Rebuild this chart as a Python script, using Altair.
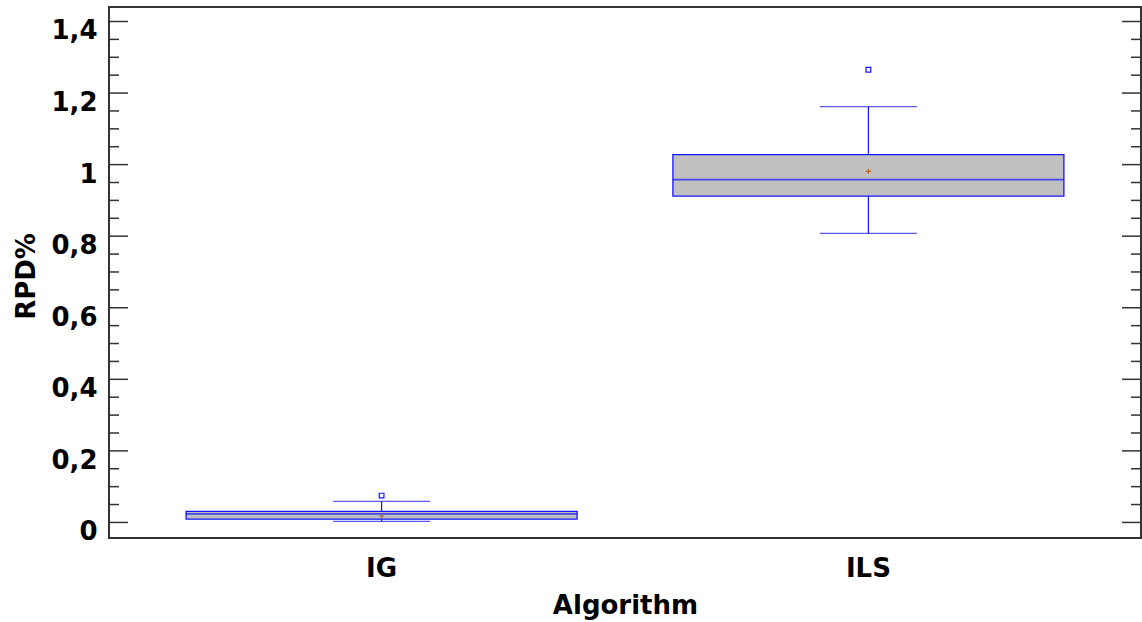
import altair as alt
import pandas as pd

# ---- data ----
algorithms = ["IG", "ILS"]
whisker_low = [0.003, 0.808]
q1 = [0.009, 0.912]
median = [0.024, 0.958]
q3 = [0.031, 1.028]
whisker_high = [0.059, 1.162]
means = [0.018, 0.981]
outlier_alg = ["IG", "ILS"]
outlier_val = [0.075, 1.265]

major_ticks = [0, 0.2, 0.4, 0.6, 0.8, 1.0, 1.2, 1.4]
minor_ticks = [0.05, 0.1, 0.15, 0.25, 0.3, 0.35, 0.45, 0.5, 0.55, 0.65, 0.7, 0.75,
               0.85, 0.9, 0.95, 1.05, 1.1, 1.15, 1.25, 1.3, 1.35]

stats = pd.DataFrame({
    "Algorithm": algorithms, "lo": whisker_low, "q1": q1, "med": median,
    "q3": q3, "hi": whisker_high, "mean": means,
})
outliers = pd.DataFrame({"Algorithm": outlier_alg, "v": outlier_val})
majors = pd.DataFrame({"t": major_ticks})
minors = pd.DataFrame({"t": minor_ticks})

FONT = "DejaVu Sans"
BLUE = "#1414ff"
W, H = 1032, 531

xscale = alt.Scale(domain=algorithms, paddingInner=0, paddingOuter=0.06)
yscale = alt.Scale(domain=[-0.0435, 1.4405], nice=False, zero=False)

xaxis = alt.Axis(
    title="Algorithm", labelAngle=0, ticks=False, tickSize=0, domain=False, grid=False,
    labelFont=FONT, labelFontSize=26, labelFontWeight="bold", labelColor="black",
    labelBaseline="alphabetic", labelPadding=38,
    titleFont=FONT, titleFontSize=26, titleFontWeight="bold", titleColor="black",
    titleBaseline="alphabetic", titleY=75,
)
yaxis = alt.Axis(
    title="RPD%", values=major_ticks, ticks=False, tickSize=0, domain=False, grid=False,
    labelExpr="replace(format(datum.value, '.1~f'), '.', ',')",
    labelFont=FONT, labelFontSize=26, labelFontWeight="bold", labelColor="black",
    labelPadding=12, labelOffset=9.5,
    titleFont=FONT, titleFontSize=26, titleFontWeight="bold", titleColor="black",
    titleBaseline="alphabetic", titleAngle=270, titleX=-75, titleY=269,
)

base = alt.Chart(stats)

box = base.mark_bar(size=391, fill="#c0c0c0", stroke=BLUE, strokeWidth=1.3).encode(
    x=alt.X("Algorithm:N", scale=xscale, axis=xaxis, sort=algorithms),
    y=alt.Y("q1:Q", scale=yscale, axis=yaxis),
    y2="q3:Q",
)
whisk_lo = base.mark_rule(color=BLUE, strokeWidth=1.2).encode(
    x=alt.X("Algorithm:N", scale=xscale, sort=algorithms), y="lo:Q", y2="q1:Q")
whisk_hi = base.mark_rule(color=BLUE, strokeWidth=1.2).encode(
    x=alt.X("Algorithm:N", scale=xscale, sort=algorithms), y="q3:Q", y2="hi:Q")
cap_lo = base.mark_tick(size=97, thickness=1.2, color=BLUE, orient="horizontal").encode(
    x=alt.X("Algorithm:N", scale=xscale, sort=algorithms), y="lo:Q")
cap_hi = base.mark_tick(size=97, thickness=1.2, color=BLUE, orient="horizontal").encode(
    x=alt.X("Algorithm:N", scale=xscale, sort=algorithms), y="hi:Q")
med = base.mark_tick(size=391, thickness=1.6, color=BLUE, orient="horizontal").encode(
    x=alt.X("Algorithm:N", scale=xscale, sort=algorithms), y="med:Q")
mean_pt = base.mark_point(shape="M-1,0H1M0,-1V1", size=28, filled=False,
                          color="#b5651d", strokeWidth=1.2, opacity=1).encode(
    x=alt.X("Algorithm:N", scale=xscale, sort=algorithms), y="mean:Q")
out_pt = alt.Chart(outliers).mark_point(shape="square", size=22, filled=False,
                                        color=BLUE, strokeWidth=1.2, opacity=1).encode(
    x=alt.X("Algorithm:N", scale=xscale, sort=algorithms), y="v:Q")

TICK = "#333333"
maj_l = alt.Chart(majors).mark_rule(color=TICK, strokeWidth=1.5).encode(
    y="t:Q", x=alt.value(0), x2=alt.value(19))
maj_r = alt.Chart(majors).mark_rule(color=TICK, strokeWidth=1.5).encode(
    y="t:Q", x=alt.value(W), x2=alt.value(W - 19))
min_l = alt.Chart(minors).mark_rule(color=TICK, strokeWidth=1.5).encode(
    y="t:Q", x=alt.value(0), x2=alt.value(10))
min_r = alt.Chart(minors).mark_rule(color=TICK, strokeWidth=1.5).encode(
    y="t:Q", x=alt.value(W), x2=alt.value(W - 10))

chart = alt.layer(
    box, whisk_lo, whisk_hi, cap_lo, cap_hi, med, mean_pt, out_pt,
    maj_l, maj_r, min_l, min_r,
).properties(
    width=W, height=H,
    autosize=alt.AutoSizeParams(type="none"),
    padding={"left": 109, "top": 7, "right": 1, "bottom": 84},
    background="white",
).configure_view(stroke="#333333", strokeWidth=2)

chart.save("out.html", embed_options={"renderer": "svg", "actions": False})
